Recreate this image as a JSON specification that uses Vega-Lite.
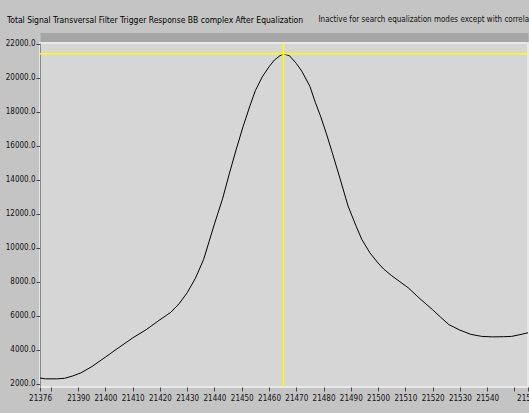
{
  "$schema": "https://vega.github.io/schema/vega-lite/v6.json",
  "autosize": {"type": "none"},
  "width": 488,
  "height": 344,
  "padding": {"left": 40, "top": 43, "right": 1, "bottom": 26},
  "background": "#c4c4c4",
  "title": {
    "text": "Total Signal Transversal Filter Trigger Response BB complex After Equalization",
    "anchor": "start",
    "frame": "group",
    "dx": -33,
    "dy": 15,
    "fontSize": 8.5,
    "fontWeight": "normal",
    "font": "'Liberation Sans Narrow', 'DejaVu Sans Condensed', sans-serif",
    "color": "#000000",
    "offset": 6
  },
  "config": {
    "view": {"fill": "#d6d6d6", "stroke": "#e8e8e8", "strokeWidth": 2},
    "axis": {
      "labelFont": "'Liberation Sans Narrow', 'DejaVu Sans Condensed', sans-serif",
      "labelColor": "#111111",
      "grid": false,
      "tickColor": "#444444",
      "tickSize": 4
    }
  },
  "datasets": {
    "curve": [
      {"x": 21376, "y": 2330}, {"x": 21378, "y": 2280}, {"x": 21382, "y": 2280},
      {"x": 21385, "y": 2310}, {"x": 21388, "y": 2450}, {"x": 21391, "y": 2630},
      {"x": 21395, "y": 3000}, {"x": 21400, "y": 3560}, {"x": 21405, "y": 4130},
      {"x": 21410, "y": 4690}, {"x": 21415, "y": 5180}, {"x": 21420, "y": 5760},
      {"x": 21424, "y": 6200}, {"x": 21427, "y": 6700}, {"x": 21430, "y": 7350},
      {"x": 21433, "y": 8200}, {"x": 21436, "y": 9300}, {"x": 21438, "y": 10350},
      {"x": 21440, "y": 11400}, {"x": 21443, "y": 12900}, {"x": 21445.5, "y": 14390},
      {"x": 21448, "y": 15800}, {"x": 21450.5, "y": 17135}, {"x": 21453, "y": 18350},
      {"x": 21455, "y": 19250}, {"x": 21457.5, "y": 20050}, {"x": 21460, "y": 20650},
      {"x": 21462, "y": 21050}, {"x": 21464, "y": 21300}, {"x": 21465.3, "y": 21410},
      {"x": 21467.5, "y": 21300}, {"x": 21470, "y": 20850}, {"x": 21472, "y": 20400},
      {"x": 21475, "y": 19500}, {"x": 21477, "y": 18550}, {"x": 21479, "y": 17700},
      {"x": 21481, "y": 16740}, {"x": 21483, "y": 15700}, {"x": 21486, "y": 14100},
      {"x": 21489, "y": 12450}, {"x": 21492, "y": 11250}, {"x": 21494, "y": 10500},
      {"x": 21497, "y": 9700}, {"x": 21500, "y": 9100}, {"x": 21502, "y": 8750},
      {"x": 21505, "y": 8350}, {"x": 21508, "y": 8000}, {"x": 21511, "y": 7650},
      {"x": 21515, "y": 7050}, {"x": 21520, "y": 6350}, {"x": 21523, "y": 5900},
      {"x": 21526, "y": 5470}, {"x": 21530, "y": 5150}, {"x": 21534, "y": 4900},
      {"x": 21538, "y": 4780}, {"x": 21542, "y": 4750}, {"x": 21546, "y": 4760},
      {"x": 21549, "y": 4780}, {"x": 21552, "y": 4880}, {"x": 21555, "y": 4990}
    ],
    "cursor": [{"cx": 21465.3, "cy": 21410}]
  },
  "layer": [
    {
      "data": {"name": "curve"},
      "mark": {"type": "line", "color": "#000000", "strokeWidth": 1, "clip": true},
      "encoding": {
        "x": {
          "field": "x", "type": "quantitative",
          "scale": {"domain": [21376, 21555], "nice": false, "zero": false},
          "axis": {
            "orient": "bottom",
            "title": null,
            "values": [21376, 21380, 21390, 21400, 21410, 21420, 21430, 21440, 21450, 21460, 21470, 21480, 21490, 21500, 21510, 21520, 21530, 21540, 21550, 21555],
            "format": "d",
            "labelExpr": "datum.value == 21380 || datum.value == 21550 ? '' : datum.label",
            "labelFontSize": 8,
            "labelPadding": 3,
            "labelOverlap": false,
            "labelBound": false,
            "labelFlush": false,
            "domain": false
          }
        },
        "y": {
          "field": "y", "type": "quantitative",
          "scale": {"domain": [1800, 22050], "nice": false, "zero": false},
          "axis": {
            "title": null,
            "values": [2000, 4000, 6000, 8000, 10000, 12000, 14000, 16000, 18000, 20000, 22000],
            "format": ".1f",
            "labelFontSize": 8,
            "labelPadding": 1,
            "domainColor": "#8a8a8a",
            "labelOverlap": false
          }
        }
      }
    },
    {
      "data": {"name": "cursor"},
      "mark": {"type": "rule", "color": "#ffff00", "strokeWidth": 1.5},
      "encoding": {"y": {"field": "cy", "type": "quantitative", "axis": null}}
    },
    {
      "data": {"name": "cursor"},
      "mark": {"type": "rule", "color": "#ffff00", "strokeWidth": 1.5},
      "encoding": {"x": {"field": "cx", "type": "quantitative", "axis": null}}
    },
    {
      "data": {"name": "cursor"},
      "mark": {"type": "point", "color": "#ffff00", "size": 20, "opacity": 0},
      "encoding": {
        "x": {
          "field": "cx", "type": "quantitative",
          "axis": {
            "orient": "top",
            "labels": false,
            "ticks": false,
            "domainColor": "#a6a6a6",
            "domainWidth": 9,
            "offset": 6,
            "title": "Inactive for search equalization modes except with correlation of correlation",
            "titleFont": "'Liberation Sans Narrow', 'DejaVu Sans Condensed', sans-serif",
            "titleFontSize": 8,
            "titleFontWeight": "normal",
            "titleColor": "#111111",
            "titleAnchor": "start",
            "titleAlign": "left",
            "titleBaseline": "middle",
            "titleX": 278,
            "titleY": -18
          }
        },
        "y": {"field": "cy", "type": "quantitative", "axis": null}
      }
    }
  ],
  "resolve": {"axis": {"x": "independent", "y": "independent"}}
}
